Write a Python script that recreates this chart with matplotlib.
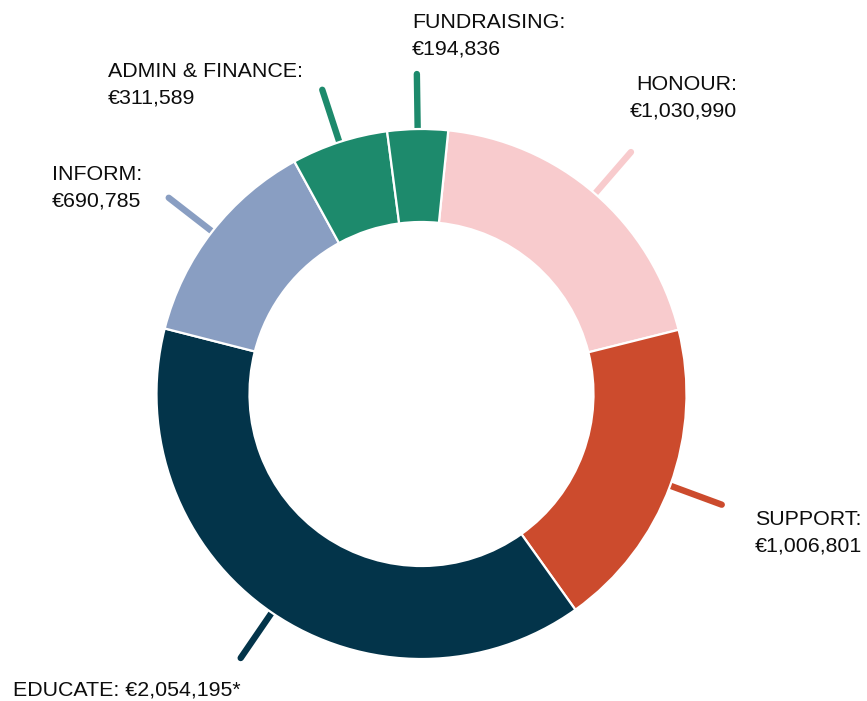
import numpy as np
import matplotlib
matplotlib.use("Agg")
import matplotlib.pyplot as plt

# ---- data ----
categories = ["HONOUR", "SUPPORT", "EDUCATE", "INFORM", "ADMIN & FINANCE", "FUNDRAISING"]
values = [1030990, 1006801, 2054195, 690785, 311589, 194836]
colors = ["#F8CBCD", "#CC4B2D", "#03344A", "#899EC2", "#1D8A6C", "#1D8A6C"]
suffix = ["", "", "*", "", "", ""]

W, H = 867, 701
fig = plt.figure(figsize=(W / 100, H / 100), dpi=100)
ax = fig.add_axes([0, 0, 1, 1])

cx, cy_px = 421.5, 394
cy = H - cy_px
R_out, R_in = 265, 172
start = 84.2

ax.pie(values, colors=colors, startangle=start, counterclock=False,
       radius=R_out, center=(cx, cy), frame=True,
       wedgeprops=dict(width=R_out - R_in, edgecolor="white", linewidth=1.6, zorder=3))
ax.set_xlim(0, W)
ax.set_ylim(0, H)
ax.set_aspect("equal")
ax.axis("off")

# leader lines
total = float(sum(values))
cum = np.cumsum([0] + values)
for i, v in enumerate(values):
    mid = start - 360 * (cum[i] + v / 2) / total
    a = np.deg2rad(mid)
    r0, r1 = R_out - 20, 320
    ax.plot([cx + r0 * np.cos(a), cx + r1 * np.cos(a)],
            [cy + r0 * np.sin(a), cy + r1 * np.sin(a)],
            color=colors[i], lw=4.6, solid_capstyle="round", zorder=2)

# labels: (x, first baseline px, ha, single_line)
label_pos = {
    "HONOUR": (737, 90, "right", False),
    "SUPPORT": (755, 525, "left", False),
    "EDUCATE": (13, 695, "left", True),
    "INFORM": (52, 180, "left", False),
    "ADMIN & FINANCE": (108, 77, "left", False),
    "FUNDRAISING": (412, 28, "left", False),
}
font = dict(family=["Liberation Sans", "DejaVu Sans"], fontsize=15.4, color="#0d0d0d")
line_gap = 26.7
for name, v, s in zip(categories, values, suffix):
    x, yb, ha, single = label_pos[name]
    val = f"€{v:,}{s}"
    if single:
        ax.text(x, H - yb, f"{name}: {val}", ha=ha, va="baseline", **font)
    else:
        ax.text(x, H - yb, f"{name}:", ha=ha, va="baseline", **font)
        ax.text(x, H - yb - line_gap, val, ha=ha, va="baseline", **font)

fig.savefig("out.png", dpi=100, facecolor="white")
